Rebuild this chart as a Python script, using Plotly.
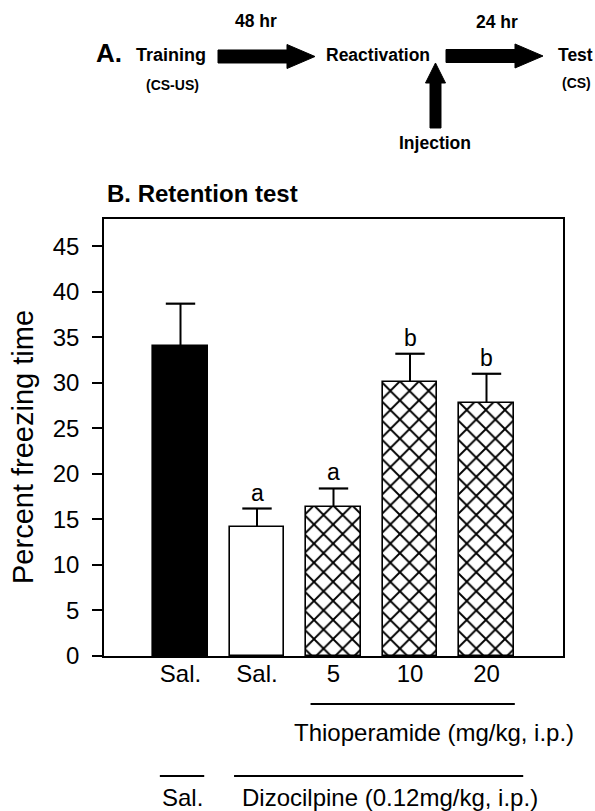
import plotly.graph_objects as go

# ---- data ----
groups = ["Sal.+Sal.", "Dizo+Sal.", "Dizo+Thio 5", "Dizo+Thio 10", "Dizo+Thio 20"]
tick_labels = ["Sal.", "Sal.", "5", "10", "20"]
means = [34.1, 14.2, 16.4, 30.1, 27.8]
sems = [4.6, 2.0, 2.0, 3.1, 3.2]
sig_letters = ["", "a", "a", "b", "b"]
bar_style = ["solid", "open", "hatch", "hatch", "hatch"]
y_ticks = [0, 5, 10, 15, 20, 25, 30, 35, 40, 45]

xpos = list(range(len(groups)))

W, H = 595, 811
PL, PR, PT, PB = 104, 563, 219, 656          # plot box in page pixels
L, T, R, B = PL, PT, W - PR, H - PB
PW, PH = PR - PL, PB - PT


def px(X):
    return (X - PL) / PW


def py(Y):
    return (PB - Y) / PH


FONT = "Liberation Sans, Arial, sans-serif"

style_marker = {
    "solid": dict(color="black", line=dict(color="black", width=1.6)),
    "open": dict(color="white", line=dict(color="black", width=1.6)),
    "hatch": dict(color="white", line=dict(color="black", width=1.6),
                  pattern=dict(shape="x", fgcolor="black", bgcolor="white",
                               fgopacity=1, size=13.5, solidity=0.26)),
}

fig = go.Figure()
for st in ["solid", "open", "hatch"]:
    idx = [i for i, s in enumerate(bar_style) if s == st]
    fig.add_trace(go.Bar(
        x=[xpos[i] for i in idx], y=[means[i] for i in idx], width=0.71,
        marker=style_marker[st],
        error_y=dict(type="data", symmetric=False, array=[sems[i] for i in idx],
                     arrayminus=[0] * len(idx), width=0, thickness=2, color="black"),
        showlegend=False,
    ))

# error-bar caps (top only)
fig.add_trace(go.Scatter(
    x=xpos, y=[m + e for m, e in zip(means, sems)], mode="markers",
    marker=dict(symbol="line-ew", size=21, line=dict(color="black", width=2.2)),
    showlegend=False, hoverinfo="skip",
))

annotations = []
# significance letters
for xi, m, e, s in zip(xpos, means, sems, sig_letters):
    if s:
        annotations.append(dict(x=xi, y=m + e, xref="x", yref="y", text=s,
                                showarrow=False, yanchor="bottom", yshift=1,
                                font=dict(size=23, color="black", family=FONT)))

# y-axis title
annotations.append(dict(x=px(23), y=py(447), xref="paper", yref="paper",
                        text="Percent freezing time", showarrow=False, textangle=-90,
                        xanchor="center", yanchor="middle",
                        font=dict(size=29, color="black", family=FONT)))

# panel B title
annotations.append(dict(x=px(105), y=py(193), xref="paper", yref="paper",
                        text="<b>B. Retention test</b>", showarrow=False,
                        xanchor="left", yanchor="middle",
                        font=dict(size=24, color="black", family=FONT)))

# group labels under axis
annotations.append(dict(x=3.31, y=py(732), xref="x", yref="paper",
                        text="Thioperamide (mg/kg, i.p.)", showarrow=False,
                        xanchor="center", yanchor="middle",
                        font=dict(size=24, color="black", family=FONT)))
annotations.append(dict(x=0.02, y=py(797), xref="x", yref="paper",
                        text="Sal.", showarrow=False,
                        xanchor="center", yanchor="middle",
                        font=dict(size=24, color="black", family=FONT)))
annotations.append(dict(x=2.74, y=py(797), xref="x", yref="paper",
                        text="Dizocilpine (0.12mg/kg, i.p.)", showarrow=False,
                        xanchor="center", yanchor="middle",
                        font=dict(size=24, color="black", family=FONT)))

# panel A schematic text
diagram_text = [
    ("<b>A.</b>", 109, 53, 26),
    ("<b>Training</b>", 171, 55, 18),
    ("<b>(CS-US)</b>", 172, 85, 14),
    ("<b>48 hr</b>", 256, 21, 17.5),
    ("<b>Reactivation</b>", 378, 55, 17.5),
    ("<b>24 hr</b>", 497, 22, 17.5),
    ("<b>Test</b>", 575, 55, 17.5),
    ("<b>(CS)</b>", 576, 83, 14),
    ("<b>Injection</b>", 435, 143, 17.5),
]
for t, X, Y, s in diagram_text:
    annotations.append(dict(x=px(X), y=py(Y), xref="paper", yref="paper", text=t,
                            showarrow=False, xanchor="center", yanchor="middle",
                            font=dict(size=s, color="black", family=FONT)))

shapes = []
# group underline bars
for x0, x1, Y in [(1.70, 4.37, 704), (-0.27, 0.31, 776), (0.70, 4.48, 776)]:
    shapes.append(dict(type="line", xref="x", yref="paper", x0=x0, x1=x1,
                       y0=py(Y), y1=py(Y), line=dict(color="black", width=2)))


def harrow(x0, xb, xt, yc, hs=6.5, hh=12):
    pts = [(x0, yc - hs), (xb, yc - hs), (xb, yc - hh), (xt, yc), (xb, yc + hh),
           (xb, yc + hs), (x0, yc + hs)]
    return "M " + " L ".join(f"{px(a):.5f},{py(b):.5f}" for a, b in pts) + " Z"


def varrow(xc, y0, yb, yt, hs=5.5, hh=10):
    pts = [(xc - hs, y0), (xc - hs, yb), (xc - hh, yb), (xc, yt), (xc + hh, yb),
           (xc + hs, yb), (xc + hs, y0)]
    return "M " + " L ".join(f"{px(a):.5f},{py(b):.5f}" for a, b in pts) + " Z"


for p in [harrow(218, 287, 315, 56.5), harrow(446, 515, 543, 56),
          varrow(435.5, 128, 83, 63)]:
    shapes.append(dict(type="path", xref="paper", yref="paper", path=p,
                       fillcolor="black", line=dict(color="black", width=1)))

fig.update_layout(
    width=W, height=H,
    margin=dict(l=L, r=R, t=T, b=B, pad=0),
    paper_bgcolor="white", plot_bgcolor="white",
    font=dict(family=FONT, size=24, color="black"),
    annotations=annotations, shapes=shapes,
    barmode="overlay", bargap=0,
)
fig.update_xaxes(range=[-1, 5], tickvals=xpos, ticktext=tick_labels,
                 showline=True, linecolor="black", linewidth=1.6, mirror=True,
                 ticks="", showgrid=False, zeroline=False, ticklabelstandoff=-5,
                 tickfont=dict(size=24, family=FONT, color="black"))
fig.update_yaxes(range=[0, 48], tickvals=y_ticks,
                 showline=True, linecolor="black", linewidth=1.6, mirror=True,
                 ticks="outside", ticklen=10, tickwidth=1.6, tickcolor="black",
                 showgrid=False, zeroline=False, ticklabelstandoff=8,
                 tickfont=dict(size=24, family=FONT, color="black"))

fig.write_html(
    "out.html",
    config={"displayModeBar": False},
    post_script="document.body.style.margin='0';document.body.style.overflow='hidden';",
)
